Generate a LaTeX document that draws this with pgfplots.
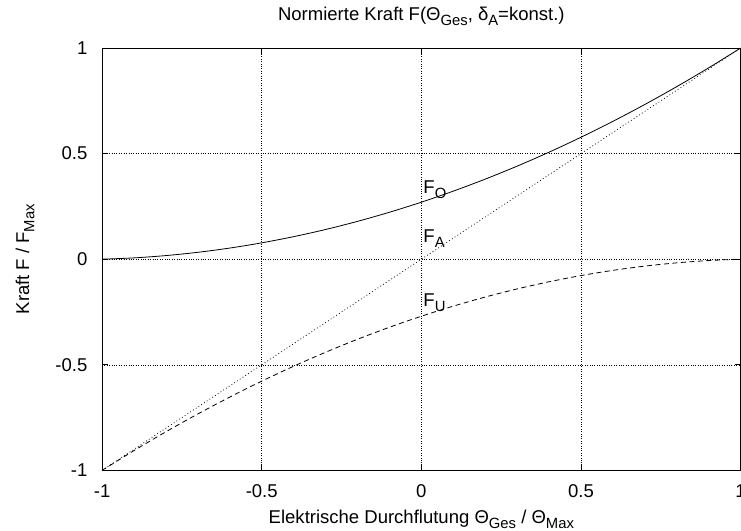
\documentclass[border=0pt]{standalone}
\usepackage{fontspec}
\setmainfont{Liberation Sans}
\usepackage{pgfplots}
\pgfplotsset{compat=1.18}
\newcommand{\fs}{\fontsize{18.5bp}{21bp}\selectfont}
\newcommand{\sub}[1]{\raisebox{-5.3bp}{\fontsize{14.8bp}{16bp}\selectfont #1}}
\begin{document}
\begin{tikzpicture}[font=\fs]
\begin{axis}[
  scale only axis,
  width=638bp, height=422bp,
  xmin=-1, xmax=1, ymin=-1, ymax=1,
  xtick={-1,-0.5,0,0.5,1},
  ytick={-1,-0.5,0,0.5,1},
  xticklabels={-1,-0.5,0,0.5,1},
  yticklabels={-1,-0.5,0,0.5,1},
  tick align=inside,
  major tick length=6bp,
  axis line style={line width=0.8bp, black},
  every tick/.style={line width=0.6bp, black},
  grid=major,
  major grid style={line width=0.5bp, black, dash pattern=on 0.8bp off 1.6bp},
  xticklabel style={anchor=base, inner sep=0pt, yshift=-26.7bp, font=\fs},
  yticklabel style={anchor=east, inner sep=0pt, xshift=-14.5bp, font=\fs},
  title={Normierte Kraft F(Θ\sub{Ges}, δ\sub{A}=konst.)},
  title style={at={(rel axis cs:0.5,1)}, anchor=base, inner sep=0pt, yshift=22bp, font=\fs},
  xlabel={Elektrische Durchflutung Θ\sub{Ges} / Θ\sub{Max}},
  xlabel style={at={(rel axis cs:0.5,0)}, anchor=base, inner sep=0pt, yshift=-52.7bp, font=\fs},
  clip=false,
]
\addplot[black, line width=0.8bp, smooth] coordinates {
(-1,0) (-0.9,0.0063) (-0.8,0.0172) (-0.7,0.0327) (-0.6,0.0528) (-0.5,0.0775)
(-0.4,0.1068) (-0.3,0.1407) (-0.2,0.1792) (-0.1,0.2223) (0,0.27)
(0.1,0.3223) (0.2,0.3792) (0.3,0.4407) (0.4,0.5068) (0.5,0.5775)
(0.6,0.6528) (0.7,0.7327) (0.8,0.8172) (0.9,0.9063) (1,1)
};
\addplot[black, line width=0.7bp, dash pattern=on 0.9bp off 2.4bp] coordinates {
(-1,-1) (1,1)
};
\addplot[black, line width=0.8bp, smooth, dash pattern=on 5bp off 3.5bp] coordinates {
(-1,-1) (-0.9,-0.9063) (-0.8,-0.8172) (-0.7,-0.7327) (-0.6,-0.6528) (-0.5,-0.5775)
(-0.4,-0.5068) (-0.3,-0.4407) (-0.2,-0.3792) (-0.1,-0.3223) (0,-0.27)
(0.1,-0.2223) (0.2,-0.1792) (0.3,-0.1407) (0.4,-0.1068) (0.5,-0.0775)
(0.6,-0.0528) (0.7,-0.0327) (0.8,-0.0172) (0.9,-0.0063) (1,0)
};
\node[anchor=base west, inner sep=0pt] at (axis cs:0.006,0.313) {F\sub{O}};
\node[anchor=base west, inner sep=0pt] at (axis cs:0.006,0.081) {F\sub{A}};
\node[anchor=base west, inner sep=0pt] at (axis cs:0.006,-0.223) {F\sub{U}};
\coordinate (sw) at (rel axis cs:0,0);
\coordinate (ne) at (rel axis cs:1,1);
\coordinate (wmid) at (rel axis cs:0,0.5);
\end{axis}
\node[rotate=90, anchor=base, inner sep=0pt] at ([xshift=-73bp]wmid) {Kraft F / F\sub{Max}};
\pgfresetboundingbox
\path[use as bounding box] ([shift={(-102bp,-60bp)}]sw) rectangle ([shift={(0.4bp,48bp)}]ne);
\end{tikzpicture}
\end{document}
